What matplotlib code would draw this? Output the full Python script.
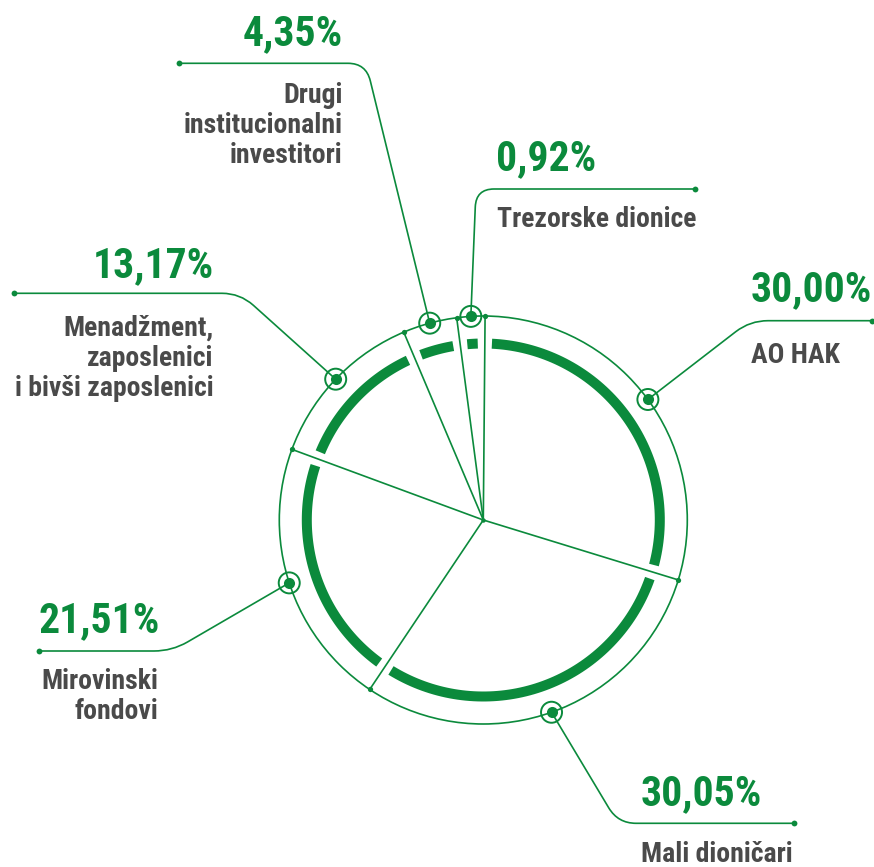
import matplotlib
matplotlib.use('Agg')
import matplotlib.pyplot as plt
from matplotlib import font_manager
from matplotlib.path import Path
from matplotlib.patches import PathPatch, Polygon, Circle
import numpy as np

# ── data ─────────────────────────────────────────────────────────────────────
CATEGORIES = ['AO HAK', 'Mali dioničari', 'Mirovinski\nfondovi',
              'Menadžment,\nzaposlenici\ni bivši zaposlenici',
              'Drugi\ninstitucionalni\ninvestitori', 'Trezorske dionice']
SHARES = [30.00, 30.05, 21.51, 13.17, 4.35, 0.92]
PCT_LABELS = ['30,00%', '30,05%', '21,51%', '13,17%', '4,35%', '0,92%']

GREEN = '#0b8a3c'
GREY = '#4a4a4a'

# pick a condensed bold face if one is installed
names = {f.name for f in font_manager.fontManager.ttflist}
FONT = next((n for n in ['Roboto Condensed', 'Barlow Condensed', 'Archivo Narrow',
                         'Roboto'] if n in names), 'DejaVu Sans')

# ── geometry (pixels, y downwards) ───────────────────────────────────────────
CX, CY = 483.3, 520.0
R_OUT = 204.0
R_RING_OUT, R_RING_IN = 181.5, 171.5
GAP_DEG = 4.6
START = 89.5          # AO HAK starts here, slices run clockwise
MIN_DEG = 8.0         # tiny slices get a minimum visible width


def slice_angles(shares):
    deg = np.array(shares) / sum(shares) * 360.0
    small = deg < MIN_DEG
    rest = 360.0 - MIN_DEG * small.sum()
    deg = np.where(small, MIN_DEG, deg / deg[~small].sum() * rest)
    return START - np.concatenate([[0], np.cumsum(deg)])


def pt(r, a):
    t = np.radians(a)
    return CX + r * np.cos(t), CY - r * np.sin(t)


def callout_path(p0, corner, p1, rad=18):
    a, b, c = map(np.array, (p0, corner, p1))
    u = (a - b) / np.linalg.norm(a - b)
    v = (c - b) / np.linalg.norm(c - b)
    q1, q2 = b + u * rad, b + v * rad
    verts = [a, q1, b, q2, c]
    codes = [Path.MOVETO, Path.LINETO, Path.CURVE3, Path.CURVE3, Path.LINETO]
    return Path(verts, codes)


fig = plt.figure(figsize=(8.74, 8.67), dpi=100)
ax = fig.add_axes([0, 0, 1, 1])
ax.set_xlim(0, 874)
ax.set_ylim(867, 0)
ax.set_aspect('equal')
ax.axis('off')

edges = slice_angles(SHARES)

# outer thin circle
ax.add_patch(Circle((CX, CY), R_OUT, fill=False, ec=GREEN, lw=1.2))

# thick ring segments with gaps at the slice boundaries
for a0, a1 in zip(edges[:-1], edges[1:]):
    t = np.linspace(a0 - GAP_DEG / 2, a1 + GAP_DEG / 2, 80)
    outer = [pt(R_RING_OUT, x) for x in t]
    inner = [pt(R_RING_IN, x) for x in t[::-1]]
    ax.add_patch(Polygon(outer + inner, closed=True, fc=GREEN, ec='none'))

# radial boundary lines
for a in edges[:-1]:
    x, y = pt(R_OUT, a)
    ax.plot([CX, x], [CY, y], color=GREEN, lw=1.2, solid_capstyle='round')
    ax.plot(x, y, 'o', ms=3.8, color=GREEN, mec='none')
ax.plot(CX, CY, 'o', ms=3.2, color=GREEN, mec='none')

# callouts: corner, line end, pct text anchor, label anchor, alignment
LAYOUT = [
    ((750, 320.7), (871.7, 320.7), (751, 301), (751, 342), 'left'),
    ((618, 823.3), (794.3, 823.3), (641, 805), (641, 841), 'left'),
    ((172, 651.0), (39.3, 651.0), (39, 632), (158.5, 668), 'left_r'),
    ((240, 293.3), (14.0, 293.3), (213.5, 277), (213.5, 315), 'right'),
    ((366, 63.3), (179.3, 63.3), (342.5, 45), (342.5, 82), 'right'),
    ((476, 189.0), (695.3, 189.0), (496, 170), (497, 206), 'left'),
]

for i, (corner, end, ppos, lpos, al) in enumerate(LAYOUT):
    mid = (edges[i] + edges[i + 1]) / 2
    m = pt(R_OUT, mid)
    ax.add_patch(PathPatch(callout_path(m, corner, end), fill=False,
                           ec=GREEN, lw=1.2))
    ax.plot(*end, 'o', ms=4.2, color=GREEN, mec='none')
    ax.add_patch(Circle(m, 10.5, fill=False, ec=GREEN, lw=1.4))
    ax.plot(*m, 'o', ms=8, color=GREEN, mec='none')
    pha = 'right' if al == 'right' else 'left'
    lha = 'left' if al == 'left' else 'right'
    ax.text(*ppos, PCT_LABELS[i], ha=pha, va='baseline', fontsize=30,
            fontweight='bold', color=GREEN, family=FONT)
    ax.text(*lpos, CATEGORIES[i], ha=lha, va='top', multialignment=lha,
            fontsize=20, fontweight='bold', color=GREY, family=FONT,
            linespacing=1.15)

fig.savefig('out.png', dpi=100)
